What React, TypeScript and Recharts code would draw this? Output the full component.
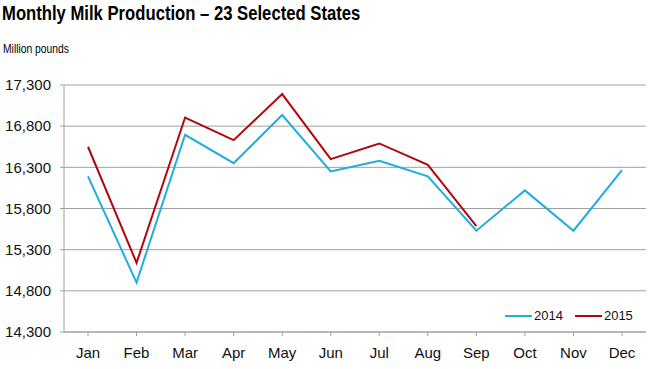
import { LineChart, Line, XAxis, YAxis, CartesianGrid, Legend } from "recharts";

const months = ["Jan", "Feb", "Mar", "Apr", "May", "Jun", "Jul", "Aug", "Sep", "Oct", "Nov", "Dec"];
const milk2014 = [16190, 14900, 16695, 16350, 16935, 16250, 16380, 16190, 15530, 16020, 15530, 16265];
const milk2015 = [16550, 15140, 16905, 16630, 17190, 16400, 16590, 16330, 15585, null, null, null];
const yTicks = [14300, 14800, 15300, 15800, 16300, 16800, 17300];

const data = months.map((m, i) => ({ month: m, y2014: milk2014[i], y2015: milk2015[i] }));

const font = '"Liberation Sans", Arial, sans-serif';

const LegendBox = (props: any) => {
	const items = props.payload || [];
	return (
		<div style={{ display: "flex", alignItems: "center", fontFamily: font, fontSize: 13, color: "#111" }}>
			{items.map((it: any) => (
				<div key={it.value} style={{ display: "flex", alignItems: "center", marginRight: 12 }}>
					<svg width={27} height={4} style={{ marginRight: 2 }}>
						<line x1={0} y1={2} x2={27} y2={2} stroke={it.color} strokeWidth={2} />
					</svg>
					<span>{it.value}</span>
				</div>
			))}
		</div>
	);
};

export default function App() {
	return (
		<div style={{ position: "absolute", left: 0, top: 0, width: 668, height: 369, background: "#fff" }}>
			<div style={{ position: "absolute", left: 2, top: 3, fontFamily: font, fontWeight: "bold", fontSize: 20, lineHeight: "20px", color: "#000", whiteSpace: "nowrap", transform: "scaleX(0.833)", transformOrigin: "left top" }}>
				Monthly Milk Production – 23 Selected States
			</div>
			<div style={{ position: "absolute", left: 3, top: 43, fontFamily: font, fontSize: 12, lineHeight: "12px", color: "#000", whiteSpace: "nowrap", transform: "scaleX(0.86)", transformOrigin: "left top" }}>
				Million pounds
			</div>
			<LineChart width={668} height={369} data={data} margin={{ top: 85, right: 22, bottom: 7, left: 0 }}>
				<CartesianGrid vertical={false} stroke="#a0a0a0" strokeWidth={1} />
				<XAxis
					dataKey="month"
					height={30}
					padding={{ left: 24, right: 24 }}
					stroke="#a0a0a0"
					tickSize={4}
					tickMargin={11}
					tick={{ fill: "#111", fontSize: 15, fontFamily: font }}
				/>
				<YAxis
					width={64}
					domain={[14300, 17300]}
					ticks={yTicks}
					stroke="#a0a0a0"
					tickSize={4}
					tickMargin={9}
					tickFormatter={(v: number) => v.toLocaleString("en-US")}
					tick={{ fill: "#111", fontSize: 15, fontFamily: font }}
				/>
				<Legend
					content={<LegendBox />}
					layout="horizontal"
					verticalAlign="middle"
					wrapperStyle={{ position: "absolute", left: 505, top: 308, width: 150, height: 20 }}
				/>
				<Line dataKey="y2014" name="2014" stroke="#1fade0" strokeWidth={2} dot={false} isAnimationActive={false} />
				<Line dataKey="y2015" name="2015" stroke="#b0070d" strokeWidth={2} dot={false} isAnimationActive={false} />
			</LineChart>
		</div>
	);
}
